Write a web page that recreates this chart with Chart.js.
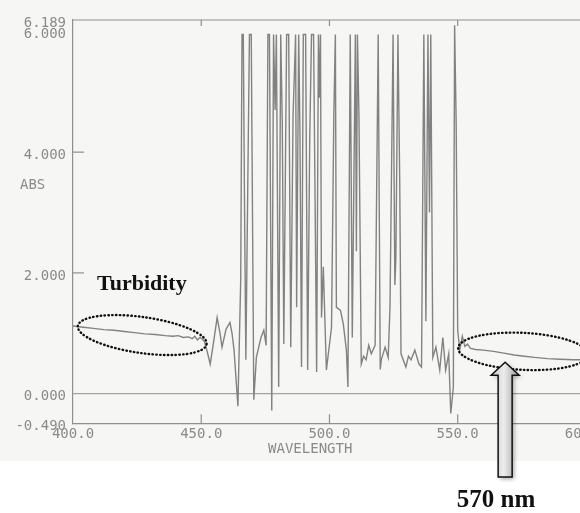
<!DOCTYPE html>
<html>
<head>
<meta charset="utf-8">
<script src="https://cdn.jsdelivr.net/npm/chart.js@4.4.0/dist/chart.umd.min.js"></script>
<style>
  html, body { margin: 0; padding: 0; background: #fff; overflow: hidden; }
  #wrap { width: 610px; height: 513px; }
</style>
</head>
<body>
<div id="wrap"><canvas id="spectrum" width="610" height="513"></canvas></div>
<script>
// wavelength (nm) / absorbance
const wavelength = [
  400, 404, 408, 412, 416, 420, 424, 428, 432, 436,
  439, 441, 443, 445, 446.5, 447.5, 448.5, 449.5, 450.5, 451.3,
  452.3, 453.5, 454.8, 456.2, 457.4, 458.1, 459.7, 461.2, 462.0, 462.8,
  464.3, 465.4, 465.9, 466.4, 466.9, 467.4, 468.8, 469.5, 470.5, 471.5,
  473.3, 474.4, 475.3, 476.0, 476.6, 477.5, 478.2, 478.8, 479.3, 480.2,
  481.0, 481.6, 482.2, 483.3, 484.1, 484.9, 485.8, 486.8, 487.2, 488.0,
  488.5, 489.1, 489.8, 490.7, 491.5, 492.3, 493.0, 493.8, 495.0, 495.7,
  496.1, 496.5, 496.9, 497.6, 498.8, 500.8, 501.7, 502.3, 502.7, 504.3,
  505.4, 506.6, 507.2, 508.1, 508.9, 510.1, 510.5, 510.9, 511.5, 512.4,
  513.3, 514.3, 515.3, 516.3, 517.8, 519.0, 519.8, 520.2, 521.7, 522.9,
  523.6, 524.8, 525.5, 525.9, 526.7, 527.4, 527.9, 529.8, 530.8, 531.8,
  533.3, 534.9, 535.9, 536.8, 537.6, 538.4, 539.0, 539.5, 540.3, 541.5,
  543.0, 544.2, 545.3, 546.5, 547.3, 548.3, 548.8, 549.4, 550.0, 550.8,
  551.8, 552.8, 553.8, 555, 557, 560, 564, 568, 572, 576,
  580, 585, 590, 595, 600
];
const absorbance = [
  1.12, 1.10, 1.08, 1.06, 1.05, 1.03, 1.01, 0.99, 0.98, 0.96,
  0.95, 0.96, 0.93, 0.94, 0.91, 0.95, 0.89, 0.93, 0.90, 0.86,
  0.70, 0.49, 0.85, 1.26, 0.98, 0.77, 1.07, 1.18, 1.00, 0.72,
  -0.21, 1.90, 5.95, 5.95, 3.00, 0.56, 5.95, 5.95, -0.10, 0.60,
  0.93, 1.05, 0.80, 5.95, 5.95, -0.28, 5.95, 4.70, 5.95, 0.11,
  5.95, 4.50, 0.82, 5.95, 5.95, 0.77, 4.60, 5.95, 1.43, 5.95,
  4.30, 0.44, 5.95, 5.95, 0.39, 4.20, 5.95, 5.95, 0.36, 5.95,
  4.90, 5.95, 1.26, 2.10, 0.39, 1.10, 4.60, 5.95, 1.43, 1.38,
  1.15, 0.72, 0.11, 5.95, 0.93, 5.95, 2.36, 5.95, 4.60, 0.49,
  0.62, 0.56, 0.80, 0.66, 0.80, 5.95, 0.40, 0.56, 0.77, 0.60,
  1.43, 5.95, 1.80, 2.25, 5.95, 3.50, 0.66, 0.44, 0.62, 0.56,
  0.72, 0.49, 0.44, 5.95, 1.20, 5.95, 3.00, 5.95, 0.60, 0.77,
  0.39, 0.93, 0.39, 0.66, -0.33, 0.10, 6.10, 4.50, 1.05, 0.72,
  0.95, 0.78, 0.82, 0.75, 0.73, 0.72, 0.70, 0.67, 0.64, 0.62,
  0.60, 0.58, 0.57, 0.56, 0.56
];
const yTicks = [-0.49, 0, 2, 4, 6, 6.189];
const xTicks = [400, 450, 500, 550, 600];

const gray = "#8a8a8a";
const mono = "DejaVu Sans Mono";

// scanned-paper look, frame bits and the hand-added notes
const decor = {
  id: "decor",
  beforeDraw(chart) {
    const ctx = chart.ctx;
    ctx.save();
    ctx.fillStyle = "#f6f6f4";
    ctx.fillRect(0, 0, chart.width, 461);
    ctx.restore();
  },
  afterDraw(chart) {
    const { ctx, chartArea: a } = chart;
    const x = chart.scales.x;
    const y = chart.scales.y;
    ctx.save();

    // top frame + inner tick marks
    ctx.strokeStyle = "#8f8f8f";
    ctx.lineWidth = 1.2;
    ctx.beginPath();
    ctx.moveTo(a.left, a.top);
    ctx.lineTo(a.right, a.top);
    ctx.stroke();
    [2, 4].forEach((v) => {
      const py = y.getPixelForValue(v);
      ctx.beginPath();
      ctx.moveTo(a.left, py);
      ctx.lineTo(a.left + 11, py);
      ctx.stroke();
    });
    [450, 500, 550].forEach((v) => {
      const px = x.getPixelForValue(v);
      ctx.beginPath();
      ctx.moveTo(px, a.bottom);
      ctx.lineTo(px, a.bottom - 9);
      ctx.moveTo(px, a.top);
      ctx.lineTo(px, a.top + 6);
      ctx.stroke();
    });

    // axis names as printed by the instrument
    ctx.fillStyle = gray;
    ctx.font = "14px " + mono;
    ctx.textAlign = "left";
    ctx.textBaseline = "middle";
    ctx.fillText("ABS", 20, y.getPixelForValue(3.45));
    ctx.textAlign = "center";
    ctx.fillText("WAVELENGTH", x.getPixelForValue(492.5), 449);

    // dotted ellipses
    ctx.strokeStyle = "#111";
    ctx.lineWidth = 2.4;
    ctx.lineCap = "round";
    ctx.setLineDash([0.5, 3.3]);
    ctx.beginPath();
    ctx.ellipse(x.getPixelForValue(427), y.getPixelForValue(0.97), 65, 18, 0.14, 0, Math.PI * 2);
    ctx.stroke();
    ctx.beginPath();
    ctx.ellipse(x.getPixelForValue(575.5), y.getPixelForValue(0.7), 65, 18.5, 0.05, 0, Math.PI * 2);
    ctx.stroke();
    ctx.setLineDash([]);

    // Turbidity label
    ctx.fillStyle = "#111";
    ctx.font = "bold 22px 'Liberation Serif'";
    ctx.textAlign = "left";
    ctx.textBaseline = "alphabetic";
    ctx.fillText("Turbidity", 97, 290);

    // block arrow pointing at 570 nm
    const tx = x.getPixelForValue(568.5);
    const ty = y.getPixelForValue(0.52);
    const hw = 14, sw = 7, hh = 13, bot = 477;
    ctx.beginPath();
    ctx.moveTo(tx, ty);
    ctx.lineTo(tx + hw, ty + hh);
    ctx.lineTo(tx + sw, ty + hh);
    ctx.lineTo(tx + sw, bot);
    ctx.lineTo(tx - sw, bot);
    ctx.lineTo(tx - sw, ty + hh);
    ctx.lineTo(tx - hw, ty + hh);
    ctx.closePath();
    const g = ctx.createLinearGradient(tx - hw, 0, tx + hw, 0);
    g.addColorStop(0, "#c4c4c4");
    g.addColorStop(0.45, "#ededed");
    g.addColorStop(1, "#9c9c9c");
    ctx.save();
    ctx.shadowColor = "rgba(0,0,0,0.35)";
    ctx.shadowBlur = 4;
    ctx.shadowOffsetX = 2;
    ctx.shadowOffsetY = 2;
    ctx.fillStyle = g;
    ctx.fill();
    ctx.restore();
    ctx.strokeStyle = "#111";
    ctx.lineWidth = 1.5;
    ctx.stroke();

    ctx.fillStyle = "#111";
    ctx.font = "bold 25px 'Liberation Serif'";
    ctx.textAlign = "center";
    ctx.fillText("570 nm", 496, 507);
    ctx.restore();
  },
};

new Chart(document.getElementById("spectrum"), {
  type: "line",
  data: {
    datasets: [
      {
        label: "ABS",
        data: wavelength.map((w, i) => ({ x: w, y: absorbance[i] })),
        borderColor: "#828282",
        borderWidth: 1.4,
        pointRadius: 0,
        tension: 0,
        fill: false,
      },
    ],
  },
  options: {
    responsive: false,
    animation: false,
    layout: { padding: { left: 0, top: 20, right: 24, bottom: 67 } },
    plugins: {
      legend: { display: false },
      tooltip: { enabled: false },
    },
    scales: {
      x: {
        type: "linear",
        min: 400,
        max: 600,
        afterBuildTicks: (s) => {
          s.ticks = xTicks.map((v) => ({ value: v }));
        },
        ticks: {
          autoSkip: false,
          maxRotation: 0,
          padding: 3,
          color: gray,
          font: { family: mono, size: 14 },
          callback: (v) => Number(v).toFixed(1),
        },
        grid: { display: false, drawTicks: false },
        border: { color: "#8f8f8f", width: 1.2 },
      },
      y: {
        type: "linear",
        min: -0.49,
        max: 6.189,
        afterBuildTicks: (s) => {
          s.ticks = yTicks.map((v) => ({ value: v }));
        },
        afterFit: (s) => {
          s.width = 73;
        },
        ticks: {
          autoSkip: false,
          padding: 7,
          labelOffset: 3,
          color: gray,
          font: { family: mono, size: 14 },
          callback: (v) => Number(v).toFixed(3),
        },
        grid: {
          drawTicks: false,
          lineWidth: 1.2,
          color: (c) => (c.tick && c.tick.value === 0 ? "#a2a2a2" : "rgba(0,0,0,0)"),
        },
        border: { color: "#8f8f8f", width: 1.2 },
      },
    },
  },
  plugins: [decor],
});
</script>
</body>
</html>
